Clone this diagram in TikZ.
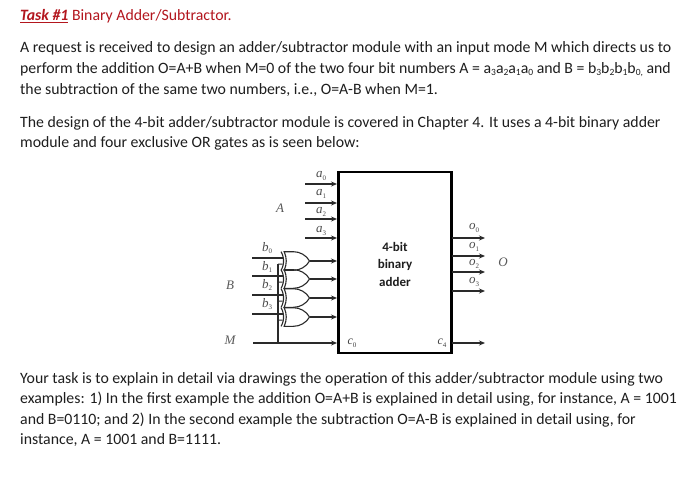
\documentclass[tikz,border=0pt]{standalone}
\usepackage{fontspec}
\setmainfont{Carlito}
\newfontfamily\lblfont{Liberation Serif}
\usetikzlibrary{arrows.meta,shapes.geometric,shapes.gates.logic.US}
\definecolor{taskred}{HTML}{B3161E}
\definecolor{ink}{HTML}{1E1E1E}
\definecolor{wire}{HTML}{2A2A2A}
\tikzset{
  x=1pt,y=-1pt,
  txt/.style={anchor=base west,inner sep=0pt,text=ink,font=\fontsize{15.8}{17}\selectfont},
  title/.style={anchor=base west,inner sep=0pt,text=taskred,font=\fontsize{15.8}{17}\selectfont},
  lbl/.style={inner sep=0pt,text=black!65,font=\lblfont\itshape\fontsize{13}{14}\selectfont},
  sig/.style={inner sep=0pt,text=black!70,font=\lblfont\itshape\fontsize{13}{14}\selectfont},
  inner/.style={inner sep=0pt,text=black!75,font=\lblfont\itshape\fontsize{12}{13}\selectfont},
  core/.style={inner sep=0pt,text=ink,font=\bfseries\fontsize{13}{13}\selectfont},
  adder/.style={draw=black,line width=2.4pt,inner sep=0pt},
  sigwire/.style={draw=wire,line width=1.5pt},
  arrowwire/.style={sigwire,-{Stealth[length=6pt,width=5pt]}},
  gate/.style={xor gate US,draw=wire,line width=1.1pt,logic gate inputs=nn,aspect=1.2,minimum height=17pt,minimum width=18pt,inner sep=0pt,anchor=center},
}
\newcommand{\sub}[1]{{\fontsize{9.5}{9.5}\selectfont\raisebox{-2pt}{#1}}}
\newcommand{\tinysub}[1]{{\fontsize{7}{7}\selectfont\raisebox{-2.5pt}{\upshape #1}}}
\begin{document}
\begin{tikzpicture}
\useasboundingbox (0,0) rectangle (700,485);
\fill[white] (0,0) rectangle (700,485);
% text
\node[title] (t0) at (20,20.5) {\underline{\textbf{\textit{Task \#1}}} Binary Adder/Subtractor.};
\node[txt] (t1) at (20,52) {A request is received to design an adder/subtractor module with an input mode M which directs us to};
\node[txt] (t2) at (20,73.5) {perform the addition O=A+B when M=0 of the two four bit numbers A = a\sub{3}a\sub{2}a\sub{1}a\sub{0} and B = b\sub{3}b\sub{2}b\sub{1}b\sub{0,} and};
\node[txt] (t3) at (20,94) {the subtraction of the same two numbers, i.e., O=A-B when M=1.};
\node[txt] (t4) at (20,127) {The design of the 4-bit adder/subtractor module is covered in Chapter 4. It uses a 4-bit binary adder};
\node[txt] (t5) at (20,147.5) {module and four exclusive OR gates as is seen below:};
\node[txt] (t6) at (20,383) {Your task is to explain in detail via drawings the operation of this adder/subtractor module using two};
\node[txt] (t7) at (20,403) {examples: 1) In the first example the addition O=A+B is explained in detail using, for instance, A = 1001};
\node[txt] (t8) at (20,424) {and B=0110; and 2) In the second example the subtraction O=A-B is explained in detail using, for};
\node[txt] (t9) at (20,444.5) {instance, A = 1001 and B=1111.};
% adder
\node[adder,minimum width=113pt,minimum height=181pt] (add) at (395,262.5) {};
\node[core] (c1) at (395,247) {4-bit};
\node[core] (c2) at (395,264.5) {binary};
\node[core] (c3) at (395,282) {adder};
% a inputs
\foreach \n/\y/\ly in {0/184/176,1/203/194,2/219/212,3/238/231}{
  \coordinate (as\n) at (305,\y);
  \coordinate (ae\n) at (337,\y);
  \draw[arrowwire] (as\n) -- (ae\n);
  \node[sig] (la\n) at (321,\ly) {a\tinysub{\n}};
}
% gates
\foreach \n/\y/\ly in {0/261/248,1/279/267,2/298/285,3/317/304}{
  \node[gate] (g\n) at (295,\y) {};
  \coordinate (gend\n) at (337,\y);
  \coordinate (bs\n) at (253,\y-3);
  \coordinate (tap\n) at (278,\y+3);
  \draw[sigwire] (bs\n) -- (g\n.input 1 -| bs\n) -- (g\n.input 1);
  \draw[wire,line width=1pt] (tap\n) -- (g\n.input 2);
  \draw[arrowwire] (g\n.output) -- (gend\n);
  \node[sig] (lb\n) at (267,\ly) {b\tinysub{\n}};
}
% M
\coordinate (ms) at (253,343);
\coordinate (me) at (337,343);
\coordinate (mt) at (278,343);
\draw[arrowwire] (ms) -- (me);
\draw[sigwire] (mt) -- (tap0);
% outputs
\foreach \n/\y/\ly in {0/238/228,1/256/247,2/272/264,3/291/282}{
  \coordinate (os\n) at (452,\y);
  \coordinate (oe\n) at (485,\y);
  \draw[arrowwire] (os\n) -- (oe\n);
  \node[sig] (lo\n) at (474,\ly) {o\tinysub{\n}};
}
\coordinate (cs) at (452,343);
\coordinate (ce) at (485,343);
\draw[arrowwire] (cs) -- (ce);
% labels
\node[lbl] (la) at (280,208) {A};
\node[lbl] (lb) at (230,285) {B};
\node[lbl] (lm) at (230,340) {M};
\node[lbl] (lo) at (503,262) {O};
\node[inner] (c0) at (352,343) {c\tinysub{0}};
\node[inner] (c4) at (442,343) {c\tinysub{4}};
\end{tikzpicture}
\end{document}
